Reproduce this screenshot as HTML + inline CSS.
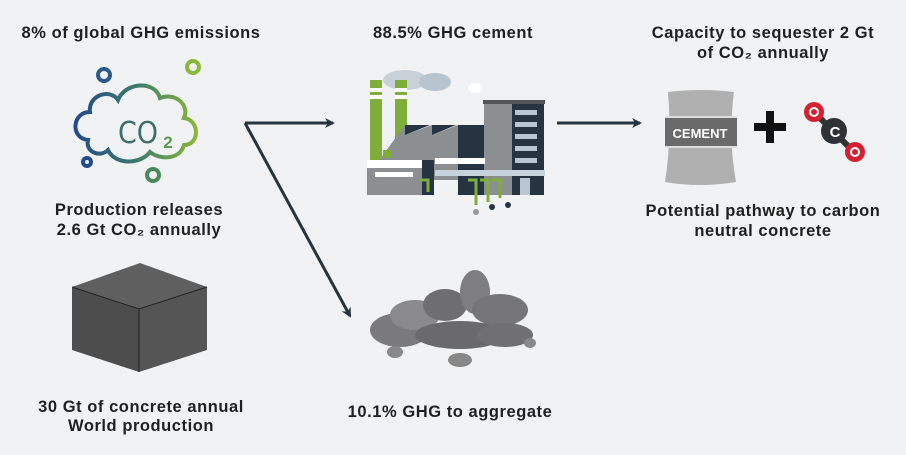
<!DOCTYPE html>
<html><head><meta charset="utf-8"><style>
html,body{margin:0;padding:0;background:#f0f2f3;}
svg{display:block}
text{font-family:"Liberation Sans",sans-serif;font-weight:bold;font-size:16.5px;fill:#1f1f1f;text-anchor:middle;letter-spacing:0.55px}
</style></head><body>
<svg width="906" height="455" viewBox="0 0 906 455">
<defs>
<linearGradient id="g" x1="0" x2="1"><stop offset="0" stop-color="#234a8a"/><stop offset="0.5" stop-color="#3a7a6a"/><stop offset="1" stop-color="#8ab83a"/></linearGradient>
<marker id="ah" markerWidth="10" markerHeight="10" refX="8" refY="5" orient="auto" markerUnits="userSpaceOnUse"><path d="M0,0 L10,5 L0,10 L3,5z" fill="#263340"/></marker>
</defs>
<rect width="906" height="455" fill="#f0f2f3"/>
<text x="141" y="38">8% of global GHG emissions</text>
<text x="453" y="38">88.5% GHG cement</text>
<text x="763" y="38">Capacity to sequester 2 Gt</text>
<text x="763" y="58">of CO₂ annually</text>
<text x="139" y="215">Production releases</text>
<text x="139" y="235">2.6 Gt CO₂ annually</text>
<text x="763" y="216">Potential pathway to carbon</text>
<text x="763" y="236">neutral concrete</text>
<text x="141" y="412">30 Gt of concrete annual</text>
<text x="141" y="431">World production</text>
<text x="450" y="417">10.1% GHG to aggregate</text>

<!-- CO2 cloud -->
<g fill="none" stroke="url(#g)" stroke-width="4">
<path d="M88,140 C70,138 72,112 90,112 C88,95 110,88 118,100 C125,82 155,80 160,98 C175,92 190,105 184,118 C200,120 200,145 184,145 C180,160 160,160 150,152 C140,165 115,165 108,150 C100,158 85,152 88,140z"/>
<circle cx="104" cy="75" r="6" stroke="#2b5a8a"/>
<circle cx="193" cy="67" r="6" stroke="#8ab83a"/>
<circle cx="87" cy="162" r="4" stroke="#234a8a"/>
<circle cx="153" cy="175" r="6" stroke="#4a8a5a"/>
</g>
<text x="138" y="143" style="font-size:30px;font-weight:normal;fill:#3d6e70;font-family:'DejaVu Sans Condensed','DejaVu Sans',sans-serif;letter-spacing:0">CO</text>
<text x="168" y="148" style="font-size:17px;font-weight:bold;fill:#5a9a50;letter-spacing:0">2</text>

<!-- arrows -->
<g stroke="#263340" stroke-width="3" fill="none">
<line x1="245" y1="123" x2="333" y2="123" marker-end="url(#ah)"/>
<line x1="245" y1="123" x2="350" y2="316" marker-end="url(#ah)"/>
<line x1="557" y1="123" x2="640" y2="123" marker-end="url(#ah)"/>
</g>

<!-- factory -->
<g>
<ellipse cx="405" cy="80" rx="22" ry="10" fill="#c8d0d8"/>
<ellipse cx="435" cy="82" rx="16" ry="9" fill="#b8c4ce"/>
<ellipse cx="475" cy="88" rx="7" ry="5" fill="#fff"/>
<rect x="370" y="80" width="12" height="100" fill="#7fae3a"/>
<rect x="395" y="80" width="12" height="100" fill="#7fae3a"/>
<rect x="370" y="88" width="12" height="4" fill="#fff"/><rect x="395" y="88" width="12" height="4" fill="#fff"/>
<rect x="370" y="95" width="12" height="4" fill="#fff"/><rect x="395" y="95" width="12" height="4" fill="#fff"/>
<path d="M372,170 L405,125 L405,135 L432,125 L432,135 L458,125 L458,180 L372,180z" fill="#8c8f92"/>
<path d="M405,125 L405,135 L430,125z M432,125 L432,135 L456,125z" fill="#263340"/>
<rect x="458" y="125" width="60" height="70" fill="#263340"/>
<rect x="484" y="102" width="60" height="93" fill="#263340"/>
<rect x="484" y="102" width="28" height="93" fill="#8c8f92"/>
<rect x="483" y="100" width="62" height="4" fill="#555"/>
<g fill="#b8c6d4"><rect x="515" y="110" width="22" height="5"/><rect x="515" y="122" width="22" height="5"/><rect x="515" y="134" width="22" height="5"/><rect x="515" y="146" width="22" height="5"/><rect x="515" y="158" width="22" height="5"/></g>
<rect x="435" y="158" width="50" height="6" fill="#fff"/><rect x="435" y="170" width="110" height="6" fill="#c8d2dc"/>
<rect x="367" y="165" width="55" height="30" fill="#8c8f92"/>
<rect x="367" y="160" width="55" height="8" fill="#fff"/>
<rect x="375" y="172" width="38" height="5" fill="#fff"/>
<rect x="422" y="160" width="12" height="35" fill="#263340"/>
<rect x="520" y="178" width="10" height="17" fill="#b8c6d4"/>
<g stroke="#7fae3a" stroke-width="3" fill="none"><path d="M468,180 h8 v25 M480,180 h8 v22 M492,180 h8 v18 M420,180 h8 v12"/></g>
<circle cx="476" cy="212" r="3" fill="#999"/><circle cx="492" cy="207" r="3" fill="#263340"/><circle cx="508" cy="205" r="3" fill="#263340"/>
<rect x="383" y="150" width="8" height="8" fill="#7fae3a"/>
</g>

<!-- cement bag -->
<path d="M668,92 Q700,88 734,92 Q728,138 736,182 Q700,188 665,182 Q672,138 668,92z" fill="#b0b0b0"/>
<rect x="665" y="118" width="72" height="28" fill="#6a6a6a"/>
<rect x="665" y="116" width="72" height="2" fill="#ddd"/><rect x="665" y="146" width="72" height="2" fill="#ddd"/>
<text x="700" y="138" style="font-size:13px;fill:#fff;letter-spacing:0;font-family:'Liberation Sans Narrow','Liberation Sans',sans-serif">CEMENT</text>
<rect x="754" y="123" width="32" height="8" fill="#111"/><rect x="766" y="111" width="8" height="32" fill="#111"/>
<!-- CO2 molecule -->
<line x1="814" y1="112" x2="854" y2="152" stroke="#333" stroke-width="6"/>
<circle cx="814" cy="112" r="10" fill="#d42030"/><circle cx="814" cy="112" r="4" fill="none" stroke="#fff" stroke-width="2"/>
<circle cx="834" cy="131" r="13" fill="#2d3236"/><text x="835" y="137" style="font-size:15px;fill:#fff;letter-spacing:0">C</text>
<circle cx="855" cy="152" r="10" fill="#d42030"/><circle cx="855" cy="152" r="4" fill="none" stroke="#fff" stroke-width="2"/>

<!-- cube (isometric) -->
<path d="M140,263 L207,287 L139,309 L72,287z" fill="#5f5f5f"/>
<path d="M72,287 L139,309 L139,372 L72,350z" fill="#4d4d4d"/>
<path d="M139,309 L207,287 L207,350 L139,372z" fill="#555"/>
<path d="M72,287 L139,309 L207,287 M139,309 L139,372" fill="none" stroke="#222" stroke-width="1"/>

<!-- rocks -->
<g>
<ellipse cx="400" cy="330" rx="30" ry="17" fill="#7a7a7c"/>
<ellipse cx="415" cy="315" rx="25" ry="15" fill="#8a8a8c"/>
<ellipse cx="445" cy="305" rx="22" ry="16" fill="#6e6e70"/>
<ellipse cx="475" cy="292" rx="15" ry="22" fill="#7e7e80"/>
<ellipse cx="500" cy="310" rx="28" ry="16" fill="#767678"/>
<ellipse cx="460" cy="335" rx="45" ry="14" fill="#6a6a6c"/>
<ellipse cx="505" cy="335" rx="28" ry="12" fill="#707072"/>
<ellipse cx="395" cy="352" rx="8" ry="6" fill="#888"/>
<ellipse cx="460" cy="360" rx="12" ry="7" fill="#888"/>
<ellipse cx="530" cy="343" rx="6" ry="5" fill="#888"/>
</g>
</svg>
</body></html>
